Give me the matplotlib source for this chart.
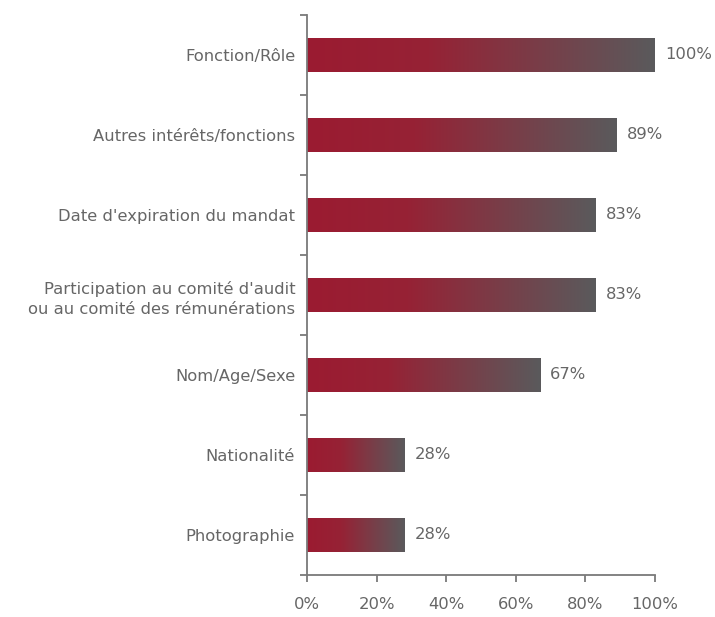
import numpy as np
import matplotlib
matplotlib.use("Agg")
import matplotlib.pyplot as plt
from matplotlib.colors import LinearSegmentedColormap

# ── Data ──────────────────────────────────────────────────────────────────
categories = [
    "Fonction/Rôle",
    "Autres intérêts/fonctions",
    "Date d'expiration du mandat",
    "Participation au comité d'audit\nou au comité des rémunérations",
    "Nom/Age/Sexe",
    "Nationalité",
    "Photographie",
]
values = [100, 89, 83, 83, 67, 28, 28]
xticks = [0, 20, 40, 60, 80, 100]

# ── Style ─────────────────────────────────────────────────────────────────
TEXT = "#666666"
AXIS = "#7a7a7a"
FS = 11.8
grad = LinearSegmentedColormap.from_list(
    "bar", [(0.0, "#9b1b31"), (0.35, "#962235"), (1.0, "#5a5a5c")])

plt.rcParams["font.family"] = ["DejaVu Sans"]

fig = plt.figure(figsize=(7.15, 6.17), dpi=100)
ax = fig.add_axes([0.4294, 0.0681, 0.4867, 0.9076])

n = len(categories)
ys = np.arange(n)[::-1]          # first category at top
bar_h = 0.42
ramp = np.linspace(0, 1, 256).reshape(1, -1)

for y, v in zip(ys, values):
    ax.imshow(ramp, cmap=grad, aspect="auto", interpolation="bilinear",
              extent=(0, v, y - bar_h / 2, y + bar_h / 2), zorder=2)
    ax.text(v + 2.9, y, f"{v}%", va="center", ha="left",
            color=TEXT, fontsize=FS)

ax.set_xlim(0, 100)
ax.set_ylim(-0.5, n - 0.5)

ax.set_xticks(xticks)
ax.set_xticklabels([f"{t}%" for t in xticks], color=TEXT, fontsize=FS)
ax.set_yticks(ys)
ax.set_yticklabels(categories, color=TEXT, fontsize=FS, linespacing=1.4)
ax.set_yticks(np.arange(-0.5, n, 1.0), minor=True)

ax.tick_params(axis="x", direction="out", length=5, width=1.3,
               color=AXIS, pad=11)
ax.tick_params(axis="y", which="major", length=0, pad=8.5)
ax.tick_params(axis="y", which="minor", direction="out", length=5,
               width=1.3, color=AXIS)

for s in ("top", "right"):
    ax.spines[s].set_visible(False)
for s in ("left", "bottom"):
    ax.spines[s].set_color(AXIS)
    ax.spines[s].set_linewidth(1.3)

fig.savefig("out.png", dpi=100, facecolor="white")
